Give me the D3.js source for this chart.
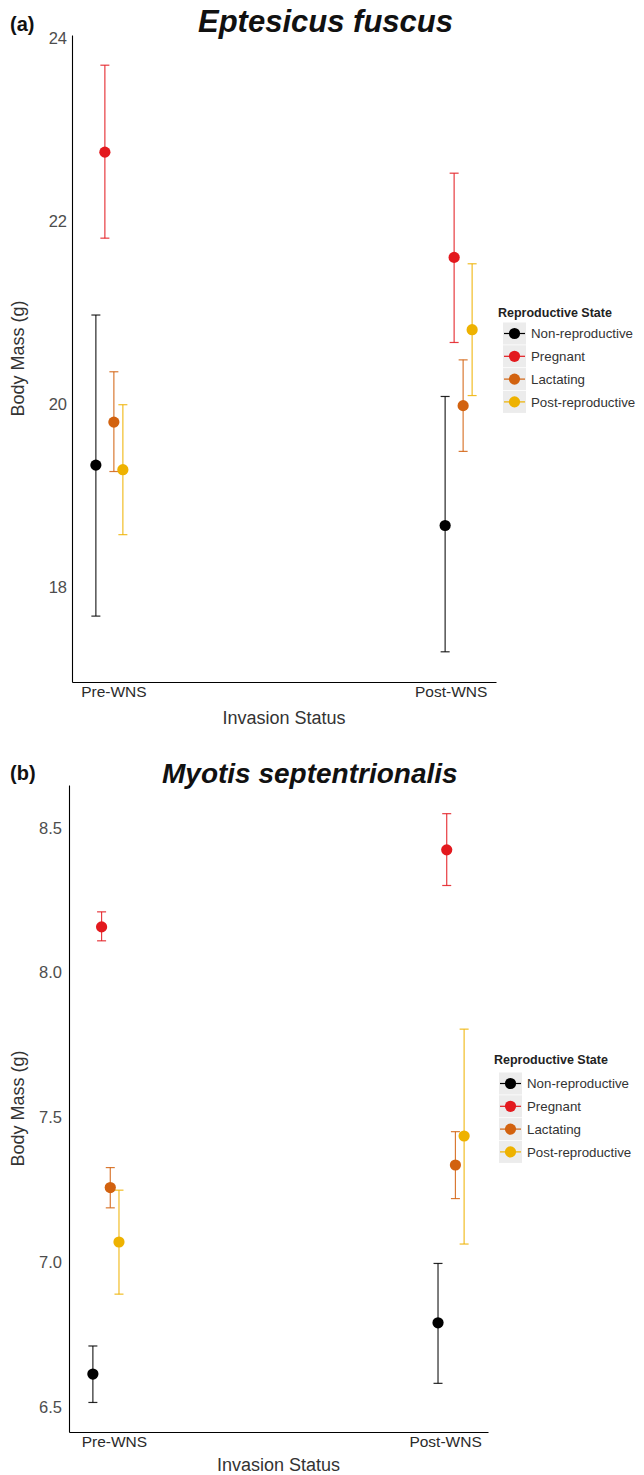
<!DOCTYPE html>
<html>
<head>
<meta charset="utf-8">
<script src="https://cdn.jsdelivr.net/npm/d3@7"></script>
<style>
  html, body { margin: 0; padding: 0; background: #ffffff; }
  svg { display: block; }
  text { font-family: "Liberation Sans", Arial, Helvetica, sans-serif; }
</style>
</head>
<body>
<div id="chart"></div>
<script>
// ---------------- DATA ----------------
const categories = ["Pre-WNS", "Post-WNS"];
const states = ["Non-reproductive", "Pregnant", "Lactating", "Post-reproductive"];
const stateColors = ["#000000", "#e3191e", "#d2620f", "#eeb200"];

// Eptesicus fuscus: per state, values for [Pre-WNS, Post-WNS]
const efMean  = [[19.33, 18.67], [22.75, 21.60], [19.80, 19.98], [19.28, 20.81]];
const efLower = [[17.68, 17.29], [21.81, 20.67], [19.26, 19.48], [18.57, 20.09]];
const efUpper = [[20.97, 20.08], [23.70, 22.52], [20.35, 20.48], [19.99, 21.53]];
const efTicks = [18, 20, 22, 24];

// Myotis septentrionalis
const msMean  = [[6.614, 6.791], [8.158, 8.424], [7.258, 7.336], [7.070, 7.436]];
const msLower = [[6.516, 6.582], [8.110, 8.301], [7.188, 7.220], [6.890, 7.063]];
const msUpper = [[6.711, 6.996], [8.210, 8.549], [7.327, 7.451], [7.249, 7.805]];
const msTicks = [6.5, 7.0, 7.5, 8.0, 8.5];

const xTitle = "Invasion Status";
const yTitle = "Body Mass (g)";
const legendTitle = "Reproductive State";

// ---------------- DRAW ----------------
const W = 644, H = 1475;
const svg = d3.select("#chart").append("svg")
  .attr("width", W).attr("height", H)
  .attr("viewBox", `0 0 ${W} ${H}`);

function drawPanel(cfg) {
  const g = svg.append("g");

  const x = d3.scalePoint().domain(categories)
    .range([cfg.left, cfg.right]).padding(0.107);
  const dodge = d3.scaleBand().domain(states)
    .range([-cfg.dodge * 2, cfg.dodge * 2]);
  const y = d3.scaleLinear().domain(cfg.yDomain).range([cfg.bottom, cfg.top]);

  // y axis
  const yAxis = g.append("g")
    .attr("transform", `translate(${cfg.left},0)`)
    .call(d3.axisLeft(y).tickValues(cfg.ticks).tickFormat(d3.format(cfg.tickFmt))
      .tickSize(0).tickSizeOuter(0).tickPadding(cfg.yTickPad));
  yAxis.select(".domain").attr("stroke", "#000").attr("stroke-width", 1.1);
  yAxis.selectAll("text").attr("font-size", 16.5).attr("fill", "#4d4d4d")
    .attr("font-family", null);

  // x axis
  const xAxis = g.append("g")
    .attr("transform", `translate(0,${cfg.bottom})`)
    .call(d3.axisBottom(x).tickSize(0).tickSizeOuter(0).tickPadding(4));
  xAxis.select(".domain").attr("stroke", "#000").attr("stroke-width", 1.1);
  xAxis.selectAll("text").attr("font-size", 15.5).attr("fill", "#2b2b2b")
    .attr("font-family", null)
    .attr("dx", (d, i) => cfg.xLabelShift[i]);

  // axis titles
  g.append("text")
    .attr("x", (cfg.left + cfg.right) / 2).attr("y", cfg.xTitleY)
    .attr("text-anchor", "middle").attr("font-size", 18).attr("fill", "#333")
    .text(xTitle);
  g.append("text")
    .attr("transform", `translate(24,${(cfg.top + cfg.bottom) / 2}) rotate(-90)`)
    .attr("text-anchor", "middle").attr("font-size", 18).attr("fill", "#333")
    .text(yTitle);

  // panel letter + title
  g.append("text").attr("x", 10).attr("y", cfg.letterY)
    .attr("font-size", 20).attr("font-weight", "bold").attr("fill", "#111")
    .text(cfg.letter);
  g.append("text").attr("x", cfg.titleX).attr("y", cfg.titleY)
    .attr("font-size", cfg.titleSize).attr("font-weight", "bold")
    .attr("font-style", "italic").attr("fill", "#111")
    .text(cfg.title);

  // build data rows
  const rows = [];
  states.forEach((s, si) => {
    categories.forEach((c, ci) => {
      rows.push({
        state: s, cat: c, color: stateColors[si],
        mean: cfg.mean[si][ci], lo: cfg.lower[si][ci], hi: cfg.upper[si][ci]
      });
    });
  });
  const cx = d => x(d.cat) + dodge(d.state) + dodge.bandwidth() / 2;
  const cap = 4.5;

  const marks = g.append("g");
  const eb = marks.selectAll("g.eb").data(rows).join("g").attr("class", "eb")
    .attr("stroke", d => d.color).attr("stroke-width", 1.2).attr("stroke-opacity", 0.85);
  eb.append("line").attr("x1", cx).attr("x2", cx)
    .attr("y1", d => y(d.lo)).attr("y2", d => y(d.hi));
  eb.append("line").attr("x1", d => cx(d) - cap).attr("x2", d => cx(d) + cap)
    .attr("y1", d => y(d.hi)).attr("y2", d => y(d.hi));
  eb.append("line").attr("x1", d => cx(d) - cap).attr("x2", d => cx(d) + cap)
    .attr("y1", d => y(d.lo)).attr("y2", d => y(d.lo));
  marks.selectAll("circle").data(rows).join("circle")
    .attr("cx", cx).attr("cy", d => y(d.mean)).attr("r", 5.6)
    .attr("fill", d => d.color);

  // legend
  const lg = g.append("g");
  lg.append("text").attr("x", cfg.legX - 5).attr("y", cfg.legTitleY)
    .attr("font-size", 12.5).attr("font-weight", "bold").attr("fill", "#222")
    .text(legendTitle);
  const keyW = 23, keyH = 22, rowStep = 22.8;
  const items = lg.selectAll("g.item").data(states).join("g").attr("class", "item")
    .attr("transform", (d, i) => `translate(${cfg.legX},${cfg.legRow0 + i * rowStep})`);
  items.append("rect").attr("x", 0).attr("y", -keyH / 2).attr("width", keyW).attr("height", keyH)
    .attr("fill", "#ececec");
  items.append("line").attr("x1", 1).attr("x2", keyW - 1).attr("y1", 0).attr("y2", 0)
    .attr("stroke", (d, i) => stateColors[i]).attr("stroke-width", 1.2);
  items.append("circle").attr("cx", keyW / 2).attr("cy", 0).attr("r", 5.6)
    .attr("fill", (d, i) => stateColors[i]);
  items.append("text").attr("x", keyW + 5).attr("y", 0).attr("dy", "0.35em")
    .attr("font-size", 13.3).attr("fill", "#333")
    .text(d => d);
}

drawPanel({
  letter: "(a)", letterY: 31, title: "Eptesicus fuscus", titleX: 198, titleY: 32, titleSize: 31,
  left: 72, right: 496, top: 35, bottom: 682, yDomain: [16.96, 24.03],
  ticks: efTicks, tickFmt: "d", yTickPad: 5, dodge: 9,
  mean: efMean, lower: efLower, upper: efUpper,
  xLabelShift: [4, -8], xTitleY: 724,
  legX: 503, legTitleY: 317, legRow0: 333.5
});

drawPanel({
  letter: "(b)", letterY: 780, title: "Myotis septentrionalis", titleX: 162, titleY: 783, titleSize: 28,
  left: 69, right: 488, top: 785, bottom: 1432, yDomain: [6.414, 8.648],
  ticks: msTicks, tickFmt: ".1f", yTickPad: 7, dodge: 8.7,
  mean: msMean, lower: msLower, upper: msUpper,
  xLabelShift: [8, -6], xTitleY: 1471,
  legX: 499, legTitleY: 1064, legRow0: 1083.5
});
</script>
</body>
</html>
